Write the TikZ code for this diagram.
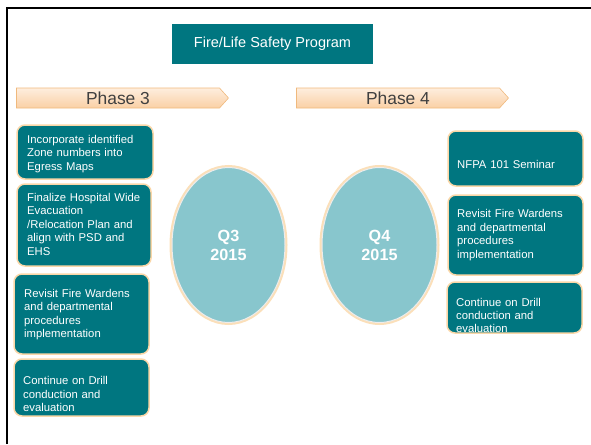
\documentclass[tikz,border=0pt]{standalone}
\usepackage{fontspec}
\setmainfont{Liberation Sans}
\usetikzlibrary{shapes.geometric,shapes.symbols}
\definecolor{teal1}{RGB}{0,118,128}
\definecolor{peachline}{RGB}{250,215,168}
\definecolor{ovalfill}{RGB}{136,198,205}
\definecolor{phasetop}{RGB}{254,238,222}
\definecolor{phasebot}{RGB}{250,208,165}
\definecolor{phaseedge}{RGB}{240,185,125}
\definecolor{phasetext}{RGB}{64,64,64}
\tikzset{
  taskbox/.style={draw=peachline, line width=1.5pt, fill=teal1, rounded corners=8pt, inner sep=0pt},
  tasktext/.style={anchor=base west, align=left, text width=130pt, inner sep=0pt, text=white, font=\fontsize{11.3}{13.45}\selectfont},
  phase/.style={signal, signal to=east, signal pointer angle=96, draw=phaseedge, line width=0.6pt,
    top color=phasetop, bottom color=phasebot, minimum width=212pt, minimum height=20pt, inner sep=0pt,
    text=phasetext, font=\fontsize{17.4}{20}\selectfont},
  quarter/.style={ellipse, fill=ovalfill, draw=white!85!gray, line width=1pt,
    preaction={draw=peachline, line width=5pt, opacity=0.8},
    inner sep=0pt, align=center, text=white, font=\fontsize{16.2}{19}\selectfont\bfseries}
}
\begin{document}
\begin{tikzpicture}[x=1pt,y=-1pt]
\useasboundingbox (0,0) rectangle (591,444);
% frame
\coordinate (fbl) at (7,444);
\coordinate (ftl) at (7,8);
\coordinate (ftr) at (591,8);
\draw[line width=2pt] (fbl) -- (ftl) -- (ftr);
% title
\node[fill=teal1, minimum width=201pt, minimum height=40pt, inner sep=0pt, text=white,
  font=\fontsize{14.5}{17}\selectfont] (title) at (272.5,44) {Fire/Life Safety Program};
% phases
\node[phase] (p3) at (118,98) {Phase 3};
\node[phase] (p4) at (398,98) {Phase 4};
% ellipses
\node[quarter, minimum width=113pt, minimum height=155pt] (q3) at (228.5,245) {Q3\\2015};
\node[quarter, minimum width=115pt, minimum height=155pt] (q4) at (379.5,245) {Q4\\2015};
% left boxes
\node[taskbox, minimum width=136pt, minimum height=54pt] (l1) at (85,152) {};
\node[taskbox, minimum width=134pt, minimum height=82pt] (l2) at (84,225) {};
\node[taskbox, minimum width=135pt, minimum height=80pt] (l3) at (81.5,314) {};
\node[taskbox, minimum width=135pt, minimum height=57pt] (l4) at (81.5,387.5) {};
\node[tasktext] (lt1) at (27,143.5) {Incorporate identified\\Zone numbers into\\Egress Maps};
\node[tasktext] (lt2) at (27,201.5) {Finalize Hospital Wide\\Evacuation\\/Relocation Plan and\\align with PSD and\\EHS};
\node[tasktext] (lt3) at (24,297.3) {Revisit Fire Wardens\\and departmental\\procedures\\implementation};
\node[tasktext] (lt4) at (23,384.7) {Continue on Drill\\conduction and\\evaluation};
% right boxes
\node[taskbox, minimum width=135pt, minimum height=55pt] (r1) at (515.5,158.5) {};
\node[taskbox, minimum width=135pt, minimum height=80pt] (r2) at (515.5,235) {};
\node[taskbox, minimum width=135pt, minimum height=51pt] (r3) at (514.5,307.5) {};
\node[tasktext] (rt1) at (457,168.7) {NFPA 101 Seminar};
\node[tasktext] (rt2) at (457,217.7) {Revisit Fire Wardens\\and departmental\\procedures\\implementation};
\node[tasktext] (rt3) at (456,306) {Continue on Drill\\conduction and\\evaluation};
\end{tikzpicture}
\end{document}
